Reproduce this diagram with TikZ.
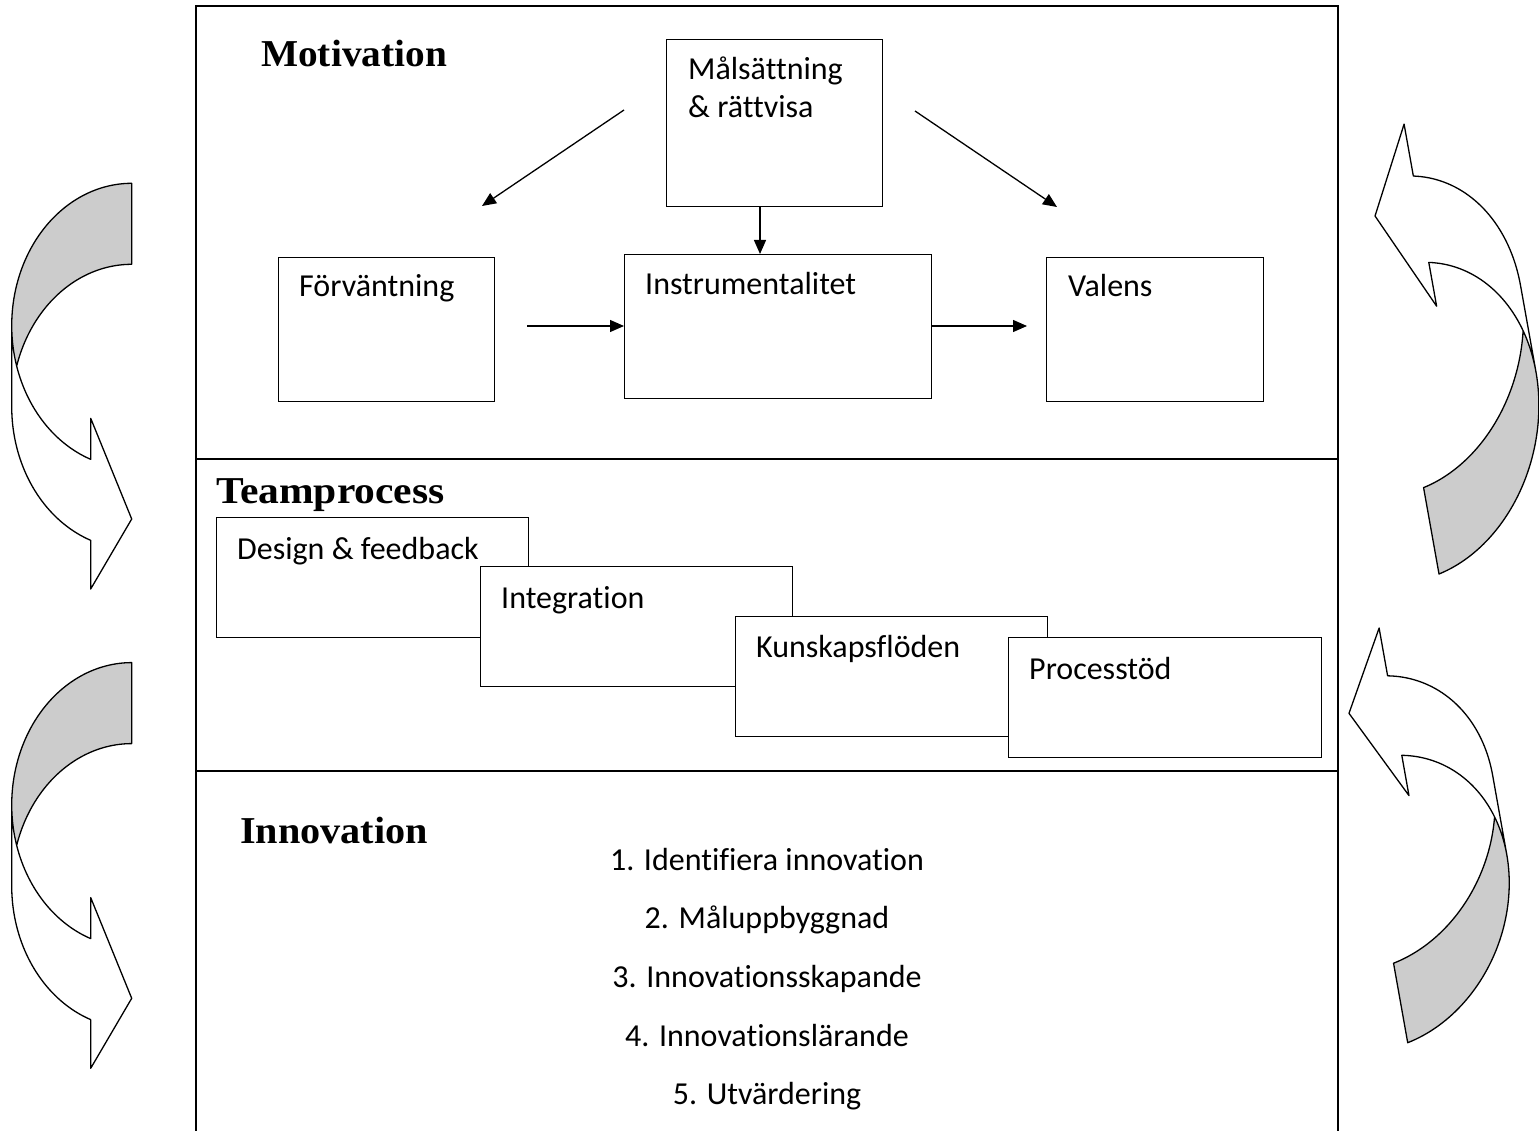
\documentclass[tikz,border=0pt]{standalone}
\usepackage{fontspec}
\setmainfont{Carlito}[Ligatures=NoCommon]
\newfontfamily\headfont{Liberation Serif}
\usetikzlibrary{arrows.meta}
\definecolor{bandgray}{RGB}{204,204,204}
\tikzset{
  box/.style={draw, line width=1.3pt, fill=white, anchor=north west, inner sep=0pt},
  lbl/.style={anchor=base west, inner sep=0pt, font=\fontsize{32}{38}\selectfont},
  head/.style={anchor=base west, inner sep=0pt, font=\headfont\bfseries\fontsize{38}{44}\selectfont},
  item/.style={anchor=base, inner sep=0pt, font=\fontsize{32}{38}\selectfont},
  arr/.style={line width=1.3pt, -{Triangle[length=14pt,width=12pt]}},
  band/.style={line width=1.3pt, line join=round},
  frame/.style={line width=1.5pt},
}
\newcommand{\myCurvArrow}{%
  \fill[white] plot[domain=180:109.98, samples=40, variable=\t] ({120*cos(\t)},{142.3+142.3*sin(\t)})
    -- (-41,235) -- (0,335.7) -- (-41,405.7) -- (-41,357)
    -- plot[domain=109.98:180, samples=40, variable=\t] ({120*cos(\t)},{223.3+142.3*sin(\t)}) -- cycle;
  \fill[bandgray] plot[domain=163.46:270, samples=50, variable=\t] ({120*cos(\t)},{142.3+142.3*sin(\t)})
    -- (0,81)
    -- plot[domain=270:196.54, samples=50, variable=\t] ({120*cos(\t)},{223.3+142.3*sin(\t)}) -- cycle;
  \draw[band] plot[domain=180:109.98, samples=40, variable=\t] ({120*cos(\t)},{142.3+142.3*sin(\t)})
    -- (-41,235) -- (0,335.7) -- (-41,405.7) -- (-41,357)
    -- plot[domain=109.98:180, samples=40, variable=\t] ({120*cos(\t)},{223.3+142.3*sin(\t)})
    -- (-120,142.3)
    -- plot[domain=180:270, samples=50, variable=\t] ({120*cos(\t)},{142.3+142.3*sin(\t)})
    -- (0,81)
    -- plot[domain=270:196.54, samples=50, variable=\t] ({120*cos(\t)},{223.3+142.3*sin(\t)});
}
\begin{document}
\begin{tikzpicture}[x=1pt,y=-1pt]
\useasboundingbox (0,0) rectangle (1539,1131);
% frame
\draw[frame] (196,1131) -- (196,6) -- (1338,6) -- (1338,1131);
\draw[frame] (196,459) -- (1338,459);
\draw[frame] (196,771) -- (1338,771);
% Motivation
\node[head] (tmot) at (261,67) {\scalebox{1.035}[1]{Motivation}};
\node[box, minimum width=216pt, minimum height=167pt] (mal) at (666,39) {};
\node[lbl] (tmal1) at (688,80) {Målsättning};
\node[lbl] (tmal2) at (688,118) {\& rättvisa};
\node[box, minimum width=216pt, minimum height=144pt] (forv) at (278,257) {};
\node[lbl] (tforv) at (299,297) {Förväntning};
\node[box, minimum width=307pt, minimum height=144pt] (ins) at (624,254) {};
\node[lbl] (tins) at (645,295) {Instrumentalitet};
\node[box, minimum width=217pt, minimum height=144pt] (val) at (1046,257) {};
\node[lbl] (tval) at (1068,297) {Valens};
\coordinate (d1s) at (624,110);
\coordinate (d1e) at (482,206);
\coordinate (d2s) at (915,111);
\coordinate (d2e) at (1057,207);
\coordinate (vx) at (760,0);
\coordinate (h1s) at (527,326);
\coordinate (h2e) at (1027,326);
\draw[arr] (d1s) -- (d1e);
\draw[arr] (d2s) -- (d2e);
\draw[arr] (mal.south -| vx) -- (ins.north -| vx);
\draw[arr] (h1s) -- (h1s -| ins.west);
\draw[arr] (h2e -| ins.east) -- (h2e);
% Teamprocess
\node[head] (tteam) at (216,503) {\scalebox{1.093}[1]{Teamprocess}};
\node[box, minimum width=312pt, minimum height=120pt] (des) at (216,517) {};
\node[lbl] (tdes) at (237,559) {Design \& feedback};
\node[box, minimum width=312pt, minimum height=120pt] (integ) at (480,566) {};
\node[lbl] (tinteg) at (501,608) {Integration};
\node[box, minimum width=312pt, minimum height=120pt] (kun) at (735,616) {};
\node[lbl] (tkun) at (756,657) {Kunskapsflöden};
\node[box, minimum width=313pt, minimum height=120pt] (proc) at (1008,637) {};
\node[lbl] (tproc) at (1029,679) {Processtöd};
% Innovation
\node[head] (tinno) at (240,843) {\scalebox{1.059}[1]{Innovation}};
\node[item] (i1) at (767,870) {1. Identifiera innovation};
\node[item] (i2) at (767,928) {2. Måluppbyggnad};
\node[item] (i3) at (767,987) {3. Innovationsskapande};
\node[item] (i4) at (767,1046) {4. Innovationslärande};
\node[item] (i5) at (767,1104) {5. Utvärdering};
% curved arrows
\begin{scope}[cm={1,0,0,1,(131.7,183.3)}] \myCurvArrow \end{scope}
\begin{scope}[cm={1,0,0,1,(131.7,662.6)}] \myCurvArrow \end{scope}
\begin{scope}[cm={-1.034,-0.42,0.1906,-1.0664,(1439,574)}] \myCurvArrow \end{scope}
\begin{scope}[cm={-1.033,-0.404,0.1749,-0.9812,(1407.7,1042.7)}] \myCurvArrow \end{scope}
\end{tikzpicture}
\end{document}
